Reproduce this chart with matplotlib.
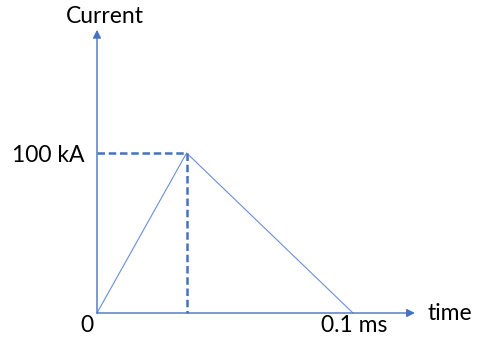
import matplotlib
matplotlib.use("Agg")
import matplotlib.pyplot as plt

time_ms = [0.0, 0.035, 0.1]
current_ka = [0.0, 100.0, 0.0]
peak_t = 0.035
peak_i = 100.0
x_tick_label = "0.1 ms"
y_tick_label = "100 kA"

blue = "#4472C4"
plt.rcParams['font.family'] = ['Lato', 'DejaVu Sans']

fig = plt.figure(figsize=(4.8, 3.5), dpi=100)
ax = fig.add_axes([0, 0, 1, 1])
ax.set_xlim(-97/2560, (480-97)/2560)
ax.set_ylim(-(350-313)/1.6, 313/1.6)
ax.axis('off')

# axes arrows
ax.annotate('', xy=(0.1242, 0), xytext=(0, 0),
            arrowprops=dict(arrowstyle='-|>', color=blue, lw=1.0, mutation_scale=12, shrinkA=0, shrinkB=0))
ax.annotate('', xy=(0, 177), xytext=(0, 0),
            arrowprops=dict(arrowstyle='-|>', color=blue, lw=1.0, mutation_scale=12, shrinkA=0, shrinkB=0))

# triangle
ax.plot(time_ms, current_ka, color="#6a8fd6", lw=0.8)
# dashed guides
ax.plot([0, peak_t], [peak_i, peak_i], color=blue, lw=1.8, ls=(0, (3, 1.5)))
ax.plot([peak_t, peak_t], [peak_i, 0], color=blue, lw=1.8, ls=(0, (3, 1.5)))

fs = 16.5
ax.text(0.003, 185.5, "Current", fontsize=fs, ha='center', va='center')
ax.text(-0.005, peak_i - 1.5, y_tick_label, fontsize=fs, ha='right', va='center')
ax.text(-0.0039, -8, "0", fontsize=fs, ha='center', va='center')
ax.text(0.1003, -8, x_tick_label, fontsize=fs, ha='center', va='center')
ax.text(0.1290, 0, "time", fontsize=fs, ha='left', va='center')

fig.savefig("out.png", dpi=100)
